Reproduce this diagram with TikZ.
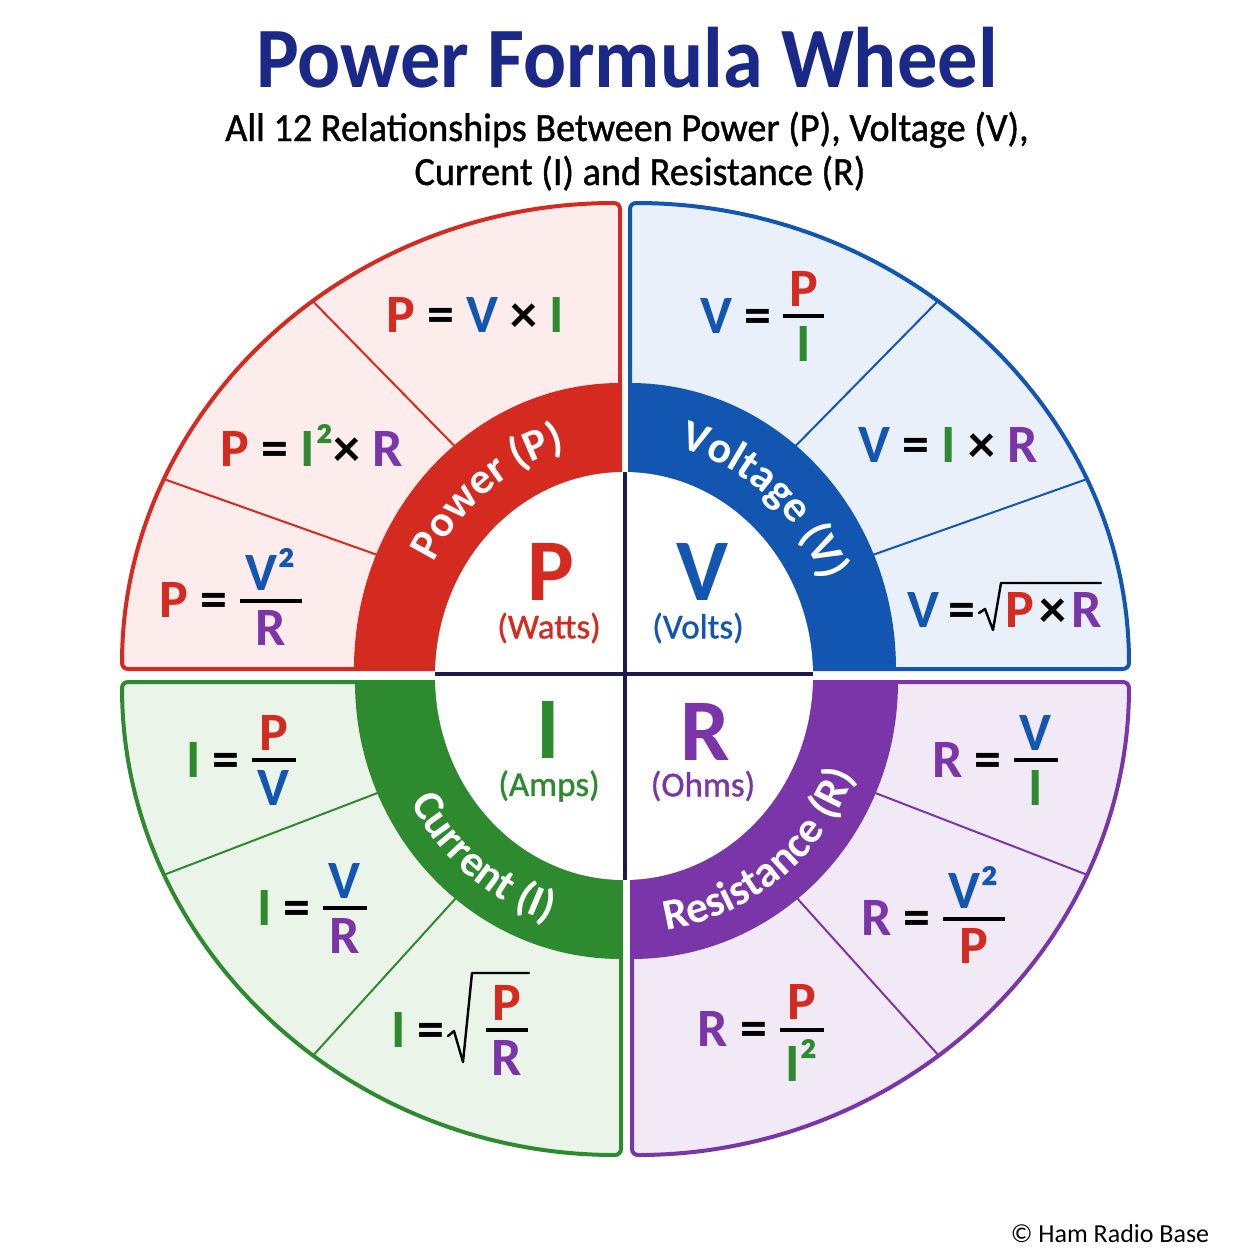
\documentclass[tikz,border=0pt]{standalone}
\usepackage{fontspec}
\setmainfont{Carlito}
\newfontfamily\subfont[FakeBold=1]{Carlito}
\newfontfamily\subtfont[FakeBold=1,FakeStretch=0.955]{Carlito}
\newfontfamily\titlefont[FakeStretch=0.935]{Carlito}
\usetikzlibrary{decorations.text}
\definecolor{cred}{HTML}{D42A1F}
\definecolor{cblue}{HTML}{1256B2}
\definecolor{cgreen}{HTML}{2E8A2E}
\definecolor{cpurple}{HTML}{7A35A8}
\definecolor{lred}{HTML}{FDECEC}
\definecolor{lblue}{HTML}{EAF0FA}
\definecolor{lgreen}{HTML}{EAF4E8}
\definecolor{lpurple}{HTML}{F1E9F6}
\definecolor{navy}{HTML}{1A2888}
\definecolor{crossc}{HTML}{1C1C4A}
\newcommand\vP{\textcolor{cred}{P}}
\newcommand\vV{\textcolor{cblue}{V}}
\newcommand\vI{\textcolor{cgreen}{I}}
\newcommand\vR{\textcolor{cpurple}{R}}
\newcommand\fmlfont{\fontsize{27}{30}\selectfont\bfseries}
\newcommand\bigfont{\fontsize{44}{46}\selectfont\bfseries}
\newcommand\unitfont{\subfont\fontsize{17.5}{20}\selectfont}
\newcommand\bandfnt{\fontsize{22}{24}\selectfont\bfseries}
\newcommand{\fr}[2]{%
  \raisebox{\dimexpr0.316em-1pt\relax}{%
    \setbox0=\hbox{\kern3pt#1\kern3pt}%
    \setbox2=\hbox{\kern3pt#2\kern3pt}%
    \ifdim\wd0<\wd2 \setbox0=\hbox to\wd2{\hss\unhbox0\hss}\else\setbox2=\hbox to\wd0{\hss\unhbox2\hss}\fi
    \vtop{\offinterlineskip\vbox{\offinterlineskip\box0\kern4pt\hrule height2pt}\kern4pt\box2}%
  }}
\begin{document}
\begin{tikzpicture}[x=0.5pt,y=0.5pt,
  qborder/.style={line width=2pt, rounded corners=3pt},
  divl/.style={line width=1pt},
  fml/.style={font=\fmlfont, inner sep=0pt},
  big/.style={font=\bigfont, inner sep=0pt},
  unit/.style={font=\unitfont, inner sep=0pt},
  rad/.style={line width=1.2pt, line cap=round, line join=round},
  crossln/.style={line width=1.6pt, crossc}]
\fill[white] (0,0) rectangle (1254,-1254);
\useasboundingbox (0,0) rectangle (1254,-1254);
\coordinate (cTL) at (620,-669);
\coordinate (cTR) at (630,-669);
\coordinate (cBL) at (621,-682);
\coordinate (cBR) at (632,-682);
% light fills
\fill[lred] (cTL) -- ++(-498,0) arc[start angle=180,end angle=90,x radius=498,y radius=466] -- cycle;
\fill[lblue] (cTR) -- ++(0,466) arc[start angle=90,end angle=0,x radius=499,y radius=466] -- cycle;
\fill[lgreen] (cBL) -- ++(-499,0) arc[start angle=180,end angle=270,x radius=499,y radius=473] -- cycle;
\fill[lpurple] (cBR) -- ++(0,-473) arc[start angle=270,end angle=360,x radius=497,y radius=473] -- cycle;
% dividers
\draw[divl,cred] ([shift={(128:240 and 260)}]cTL) -- ([shift={(128:498 and 466)}]cTL);
\draw[divl,cred] ([shift={(156:240 and 260)}]cTL) -- ([shift={(156:498 and 466)}]cTL);
\draw[divl,cblue] ([shift={(52:240 and 260)}]cTR) -- ([shift={(52:499 and 466)}]cTR);
\draw[divl,cblue] ([shift={(24:240 and 260)}]cTR) -- ([shift={(24:499 and 466)}]cTR);
\draw[divl,cgreen] ([shift={(204:240 and 250)}]cBL) -- ([shift={(204:499 and 473)}]cBL);
\draw[divl,cgreen] ([shift={(232:240 and 250)}]cBL) -- ([shift={(232:499 and 473)}]cBL);
\draw[divl,cpurple] ([shift={(336:240 and 250)}]cBR) -- ([shift={(336:497 and 473)}]cBR);
\draw[divl,cpurple] ([shift={(308:240 and 250)}]cBR) -- ([shift={(308:497 and 473)}]cBR);
% bands
\fill[cred] (cTL) -- ++(-266,0) arc[start angle=180,end angle=90,x radius=266,y radius=286] -- cycle;
\fill[cblue] (cTR) -- ++(0,286) arc[start angle=90,end angle=0,x radius=266,y radius=286] -- cycle;
\fill[cgreen] (cBL) -- ++(-266,0) arc[start angle=180,end angle=270,x radius=266,y radius=277] -- cycle;
\fill[cpurple] (cBR) -- ++(0,-277) arc[start angle=270,end angle=360,x radius=266,y radius=277] -- cycle;
% borders
\draw[qborder,cred] (cTL) -- ++(-498,0) arc[start angle=180,end angle=90,x radius=498,y radius=466] -- cycle;
\draw[qborder,cblue] (cTR) -- ++(0,466) arc[start angle=90,end angle=0,x radius=499,y radius=466] -- cycle;
\draw[qborder,cgreen] (cBL) -- ++(-499,0) arc[start angle=180,end angle=270,x radius=499,y radius=473] -- cycle;
\draw[qborder,cpurple] (cBR) -- ++(0,-473) arc[start angle=270,end angle=360,x radius=497,y radius=473] -- cycle;
% white centre
\fill[white] (624,-676) ellipse [x radius=189, y radius=204];
\draw[crossln] (625,-472) -- (625,-880);
\draw[crossln] (435,-674) -- (813,-674);
% band texts
\path[decorate, decoration={text along path, text align=center, text color=white, text={|\bandfnt|Power (P)}}]
  ([shift={(168:211 and 227)}]cTL) arc[start angle=168, end angle=88, x radius=211, y radius=227];
\path[decorate, decoration={text along path, text align=center, text color=white, text={|\bandfnt|Voltage (V)}}]
  ([shift={(90:210 and 227)}]cTR) arc[start angle=90, end angle=10, x radius=210, y radius=227];
\path[decorate, decoration={text along path, text align=center, text color=white, text={|\bandfnt|Current (I)}}]
  ([shift={(191:240 and 251)}]cBL) arc[start angle=191, end angle=271, x radius=240, y radius=251];
\path[decorate, decoration={text along path, text align=center, text color=white, text={|\bandfnt|Resistance (R)}}]
  ([shift={(268:240 and 251)}]cBR) arc[start angle=268, end angle=348, x radius=240, y radius=251];
% centre letters
\node[big,text=cred] (bP) at (551,-572) {P};
\node[unit,text=cred] (uP) at (549,-628) {(Watts)};
\node[big,text=cblue] (bV) at (703,-572) {V};
\node[unit,text=cblue] (uV) at (698,-628) {(Volts)};
\node[big,text=cgreen] (bI) at (548,-730) {I};
\node[unit,text=cgreen] (uI) at (549,-786) {(Amps)};
\node[big,text=cpurple] (bR) at (705,-732) {R};
\node[unit,text=cpurple] (uR) at (703,-786) {(Ohms)};
% formulas
\node[fml] (f1) at (475,-315) {\vP{} = \vV{} × \vI};
\node[fml] (f2) at (312,-445) {\vP{} = \textcolor{cgreen}{I²}× \vR};
\node[fml] (f3) at (231,-597) {\vP{} = \fr{\textcolor{cblue}{V²}}{\vR}};
\node[fml] (f4) at (762,-316) {\vV{} = \fr{\vP}{\vI}};
\node[fml] (f5) at (948,-445) {\vV{} = \vI{} × \vR};
\node[fml] (f6a) at (941,-610) {\vV\,=};
\node[fml] (f6b) at (1054,-610) {\vP\kern2.5pt×\kern2.5pt\vR};
\draw[rad] (979,-613) -- (985,-609) -- (993,-630) -- (1001,-583) -- (1101,-583);
\node[fml] (f7) at (241,-760) {\vI{} = \fr{\vP}{\vV}};
\node[fml] (f8) at (312,-908) {\vI{} = \fr{\vV}{\vR}};
\node[fml] (f9a) at (418,-1030) {\vI{} =};
\draw[rad] (448,-1036) -- (454,-1031) -- (463,-1062) -- (472,-973) -- (529,-973);
\node[fml] (f9b) at (507,-1030) {\fr{\vP}{\vR}};
\node[fml] (f10) at (995,-760) {\vR{} = \fr{\vV}{\vI}};
\node[fml] (f11) at (933,-915) {\vR{} = \fr{\textcolor{cblue}{V²}}{\vP}};
\node[fml] (f12) at (761,-1033) {\vR{} = \fr{\vP}{\textcolor{cgreen}{I²}}};
% titles
\node[anchor=base, font=\titlefont\fontsize{43}{46}\selectfont\bfseries, text=navy, inner sep=0pt] (title) at (627,-87) {Power Formula Wheel};
\node[anchor=base, font=\subtfont\fontsize{20}{22}\selectfont, inner sep=0pt] (sub1) at (627,-141) {All 12 Relationships Between Power (P), Voltage (V),};
\node[anchor=base, font=\subtfont\fontsize{20}{22}\selectfont, inner sep=0pt] (sub2) at (640,-185) {Current (I) and Resistance (R)};
\node[anchor=base, font=\fontsize{13}{15}\selectfont, inner sep=0pt] (copy) at (1110,-1242) {© Ham Radio Base};
\end{tikzpicture}
\end{document}
